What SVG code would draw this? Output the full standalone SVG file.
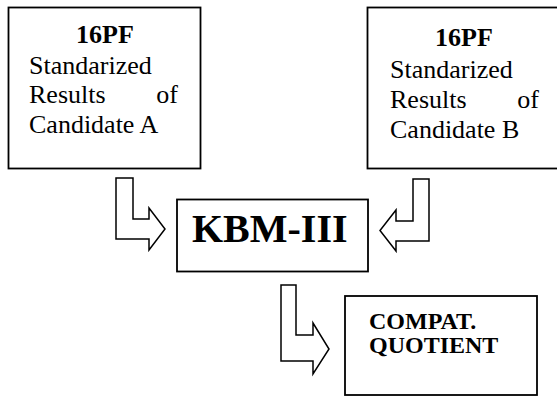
<svg xmlns="http://www.w3.org/2000/svg" width="557" height="396" viewBox="0 0 557 396">
<style>
.box{fill:#fff;stroke:#000;stroke-width:1.8}
.arr{fill:#fff;stroke:#000;stroke-width:1.5;stroke-linejoin:miter}
.t{font-family:"Liberation Serif","Times New Roman",serif;fill:#000}
.b{font-weight:bold}
</style>
<rect width="557" height="396" fill="#fff"/>
<g id="connectors">
<polygon class="arr" points="116,178 133,178 133,219 149,219 149,208 165,229 149,250 149,239 116,239"/>
<polygon class="arr" points="413,179 429,179 429,241 396,241 396,251 380,230.5 396,210 396,221 413,221"/>
<polygon class="arr" points="281,285 296,285 296,335 313,335 313,323 329,349 313,374 313,361 281,361"/>
</g>
<g id="candidateA">
<rect class="box" x="8.5" y="7.5" width="192" height="161"/>
<text class="t b" x="105" y="43" font-size="26" text-anchor="middle">16PF</text>
<text class="t" x="29" y="74" font-size="26">Standarized</text>
<text class="t" x="29" y="103" font-size="26">Results</text>
<text class="t" x="178" y="103" font-size="26" text-anchor="end">of</text>
<text class="t" x="29" y="133" font-size="26">Candidate A</text>
</g>
<g id="candidateB">
<rect class="box" x="367.5" y="7.5" width="192" height="161"/>
<text class="t b" x="464" y="46" font-size="26" text-anchor="middle">16PF</text>
<text class="t" x="390" y="78" font-size="26">Standarized</text>
<text class="t" x="390" y="108" font-size="26">Results</text>
<text class="t" x="539" y="108" font-size="26" text-anchor="end">of</text>
<text class="t" x="390" y="138" font-size="26">Candidate B</text>
</g>
<g id="kbm">
<rect class="box" x="177" y="199.5" width="191" height="72"/>
<text class="t b" x="192" y="242" font-size="40">KBM-III</text>
</g>
<g id="compat">
<rect class="box" x="345" y="296" width="192" height="99"/>
<text class="t b" x="369" y="329" font-size="24">COMPAT.</text>
<text class="t b" x="369" y="353" font-size="24">QUOTIENT</text>
</g>
</svg>
